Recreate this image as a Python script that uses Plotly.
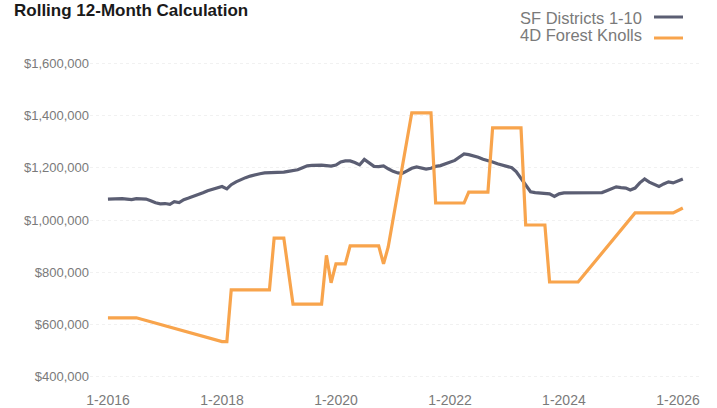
import plotly.graph_objects as go
import pandas as pd

# ---------------- data ----------------
sf_name = "SF Districts 1-10"
fk_name = "4D Forest Knolls"

sf_dates = pd.date_range("2016-01-01", periods=122, freq="MS")
sf_values_k = [
    1080, 1081, 1079, 1082, 1080, 1078, 1082, 1080, 1080, 1074, 1066, 1062,
    1063, 1060, 1070, 1067, 1078, 1084, 1090, 1096, 1104, 1112, 1118, 1125,
    1128, 1119, 1135, 1146, 1155, 1162, 1168, 1174, 1177, 1180, 1181, 1180,
    1180, 1183, 1186, 1188, 1192, 1200, 1207, 1209, 1211, 1210, 1208, 1206,
    1210, 1222, 1226, 1226, 1220, 1211, 1232, 1218, 1205, 1204, 1207, 1196,
    1186, 1180, 1178, 1188, 1198, 1203, 1200, 1195, 1198, 1205, 1208, 1215,
    1222, 1228, 1240, 1253, 1250, 1245, 1240, 1232, 1228, 1222, 1215, 1210,
    1205, 1200, 1185, 1160, 1135, 1108, 1105, 1104, 1103, 1100, 1090, 1100,
    1104, 1104, 1103, 1104, 1104, 1103, 1104, 1104, 1105, 1112, 1120, 1127,
    1124, 1122, 1115, 1122, 1142, 1157, 1145, 1135, 1128, 1138, 1146, 1142,
    1150, 1157,
]
sf_values = [v * 1000 for v in sf_values_k]

fk_dates = [
    "2016-01-01", "2016-07-01", "2018-01-01", "2018-02-01", "2018-03-01",
    "2018-11-01", "2018-12-01", "2019-02-01", "2019-04-01", "2019-10-01",
    "2019-11-01", "2019-12-01", "2020-01-01", "2020-03-01", "2020-04-01",
    "2020-10-01", "2020-11-01", "2020-12-01", "2021-05-01", "2021-09-01",
    "2021-10-01", "2022-04-01", "2022-05-01", "2022-09-01", "2022-10-01",
    "2023-04-01", "2023-05-01", "2023-09-01", "2023-10-01", "2024-04-01",
    "2025-04-01", "2025-12-01", "2026-02-01",
]
fk_values_k = [
    626, 626, 535, 535, 733,
    733, 931, 931, 678, 678,
    865, 760, 832, 832, 901,
    901, 832, 897, 1410, 1410,
    1065, 1065, 1107, 1107, 1352,
    1352, 981, 981, 763, 763,
    1027, 1027, 1046,
]
fk_values = [v * 1000 for v in fk_values_k]

x_ticks = ["2016-01-01", "2018-01-01", "2020-01-01", "2022-01-01",
           "2024-01-01", "2026-01-01"]
y_ticks = [400000, 600000, 800000, 1000000, 1200000, 1400000, 1600000]

# ---------------- styling / layout ----------------
W, H = 717, 408
ML, MR, MT, MB = 90, 17, 55, 18
SF_COLOR = "#5b5e73"
FK_COLOR = "#f8a44c"
TXT_GRAY = "#7a7a7a"
FONT = "Liberation Sans, Arial, sans-serif"


def px_x(px):
    return (px - ML) / (W - ML - MR)


def px_y(py):
    return (H - MB - py) / (H - MT - MB)


fig = go.Figure()
fig.add_trace(go.Scatter(x=sf_dates, y=sf_values, mode="lines", name=sf_name,
                         line=dict(color=SF_COLOR, width=3.2)))
fig.add_trace(go.Scatter(x=fk_dates, y=fk_values, mode="lines", name=fk_name,
                         line=dict(color=FK_COLOR, width=3.2)))

fig.update_layout(
    width=W, height=H,
    margin=dict(l=ML, r=MR, t=MT, b=MB, autoexpand=False),
    paper_bgcolor="white", plot_bgcolor="white",
    showlegend=False,
    font=dict(family=FONT, color=TXT_GRAY),
)
fig.update_xaxes(
    range=["2015-09-08", "2026-05-22"],
    tickvals=x_ticks, tickformat="%-m-%Y",
    tickfont=dict(size=14, color=TXT_GRAY),
    showgrid=False, zeroline=False, showline=False, ticks="",
    automargin=False,
)
fig.update_yaxes(
    range=[350000, 1631000],
    tickvals=y_ticks, tickformat="$,.0f",
    tickfont=dict(size=13, color=TXT_GRAY),
    showgrid=True, gridcolor="#f1f1f1", griddash="dot", gridwidth=1,
    zeroline=False, showline=False, ticks="",
    automargin=False,
)

annotations = [
    dict(text="<b>Rolling 12-Month Calculation</b>", xref="paper", yref="paper",
         x=px_x(12), y=px_y(11), xanchor="left", yanchor="middle",
         showarrow=False, font=dict(size=17, color="#1a1a1a", family=FONT)),
    dict(text=sf_name, xref="paper", yref="paper",
         x=px_x(644), y=px_y(17.5), xanchor="right", yanchor="middle",
         showarrow=False, font=dict(size=16.5, color=TXT_GRAY, family=FONT)),
    dict(text=fk_name, xref="paper", yref="paper",
         x=px_x(644), y=px_y(35.5), xanchor="right", yanchor="middle",
         showarrow=False, font=dict(size=16.5, color=TXT_GRAY, family=FONT)),
]
shapes = [
    dict(type="line", xref="paper", yref="paper",
         x0=px_x(654), x1=px_x(683), y0=px_y(17), y1=px_y(17),
         line=dict(color=SF_COLOR, width=3)),
    dict(type="line", xref="paper", yref="paper",
         x0=px_x(654), x1=px_x(683), y0=px_y(38), y1=px_y(38),
         line=dict(color=FK_COLOR, width=3)),
]
fig.update_layout(annotations=annotations, shapes=shapes)

fig.write_html(
    "out.html",
    config={"displayModeBar": False, "staticPlot": True},
    post_script="document.body.style.margin='0';document.body.style.overflow='hidden';",
)
